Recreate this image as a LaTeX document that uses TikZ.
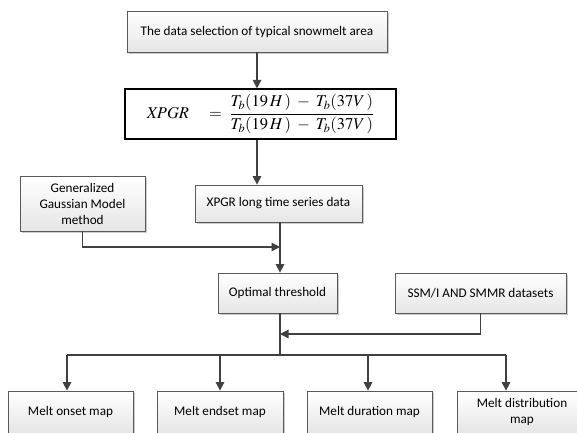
\documentclass[tikz,border=0pt]{standalone}
\usepackage{mathptmx}
\usepackage{fontspec}
\setmainfont{Carlito}
\usetikzlibrary{arrows.meta,shadows}
\begin{document}
\begin{tikzpicture}[x=1pt,y=-1pt,
    box/.style={draw=black!65, line width=0.8pt, top color=white, bottom color=black!10,
      drop shadow={shadow xshift=1.5pt, shadow yshift=-1.5pt, fill=black!40, opacity=0.5},
      align=center, inner sep=0pt, font=\fontsize{13.2}{16}\selectfont},
    eqbox/.style={draw=black, line width=1.2pt, fill=white, inner sep=0pt},
    link/.style={draw=black!75, line width=1.3pt},
    flow/.style={link, -{Triangle[length=8.5pt,width=8.5pt]}}]
    \useasboundingbox (0,0) rectangle (577,432);
    \clip (0,0) rectangle (577,432);

    % Nodes
    \node[box, minimum width=260pt, minimum height=41pt] (sel) at (257,31.5) {The data selection of typical snowmelt area};
    \node[eqbox, minimum width=271pt, minimum height=50pt] (formula) at (260.5,114)
      {\fontsize{16.5}{19}\selectfont $\displaystyle \mathit{XPGR}\quad =\;\frac{T_b(19\,H\,)\;-\;T_b(37V\,)}{T_b(19\,H\,)\;-\;T_b(37V\,)}$};
    \node[box, minimum width=125pt, minimum height=55pt] (ggm) at (82.5,203.5) {Generalized\\Gaussian Model\\method};
    \node[box, minimum width=167pt, minimum height=37pt] (lts) at (278.5,203.5) {XPGR long time series data};
    \node[box, minimum width=119pt, minimum height=40pt] (opt) at (277.5,293) {Optimal threshold};
    \node[box, minimum width=171pt, minimum height=40pt] (ssm) at (480.5,293) {SSM/I AND SMMR datasets};
    \node[box, minimum width=125pt, minimum height=42pt] (m1) at (70.5,412) {Melt onset map};
    \node[box, minimum width=126pt, minimum height=42pt] (m2) at (220,412) {Melt endset map};
    \node[box, minimum width=125pt, minimum height=42pt] (m3) at (369.5,412) {Melt duration map};
    \node[box, minimum width=130pt, minimum height=42pt] (m4) at (522,412) {Melt distribution\\map};

    % Junctions
    \coordinate (j1) at (280,247);
    \coordinate (j2) at (280,334);
    \coordinate (c1) at (67,355);
    \coordinate (c2) at (220,355);
    \coordinate (c3) at (368,355);
    \coordinate (c4) at (506,355);

    % Arrows
    \draw[flow] (sel) -- (sel |- formula.north);
    \draw[flow] (sel |- formula.south) -- (sel |- lts.north);
    \draw[flow] (lts.south -| j1) -- (j1 |- opt.north);
    \draw[flow] (ggm.south) |- (j1);
    \draw[flow] (ssm.south) |- (j2);
    \draw[link] (opt.south -| j2) -- (j2 |- c1);
    \draw[link] (c1) -- (c4);
    \foreach \i in {1,...,4}
        \draw[flow] (c\i) -- (c\i |- m\i.north);
\end{tikzpicture}
\end{document}
